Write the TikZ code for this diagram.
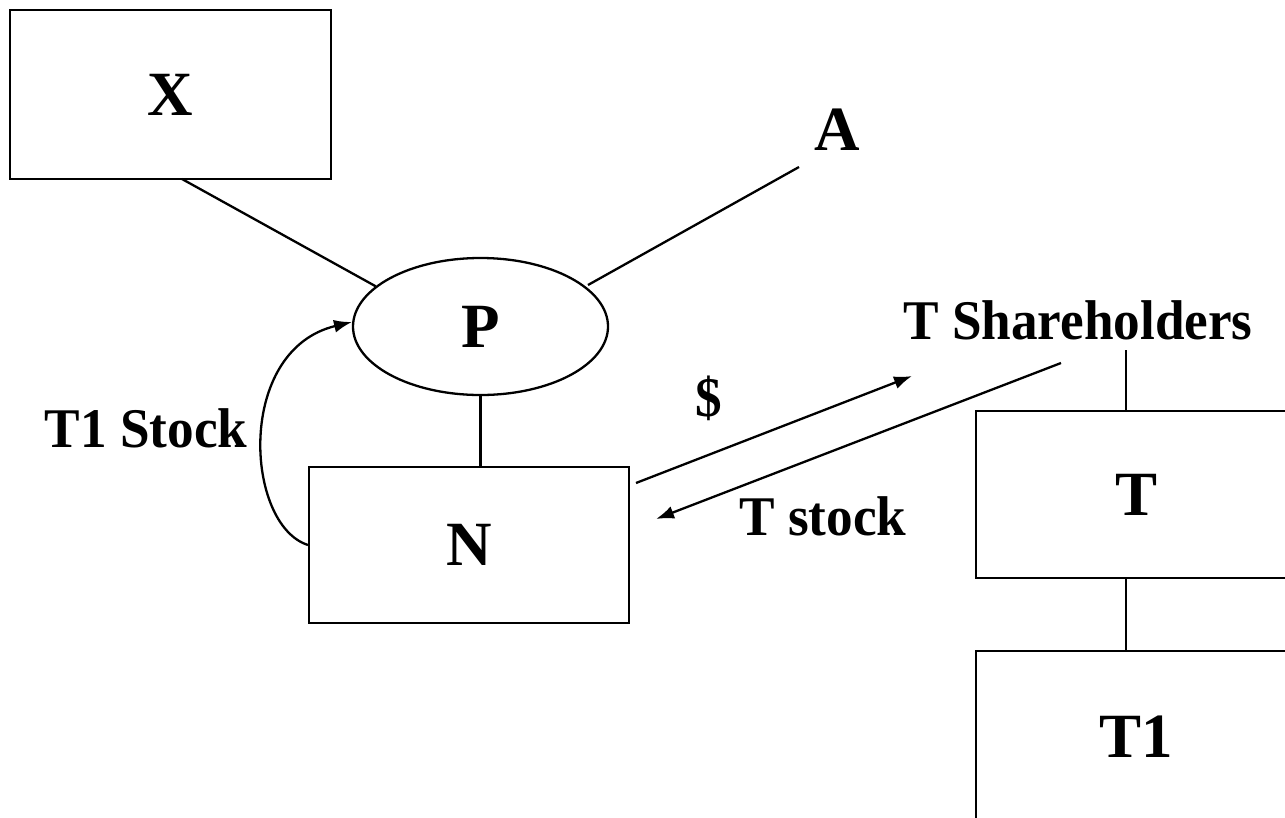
\documentclass[tikz,border=0pt]{standalone}
\usepackage{fontspec}
\usepackage{graphicx}
\setmainfont{Liberation Serif}
\usetikzlibrary{shapes.geometric,arrows.meta,calc}
\begin{document}
\begin{tikzpicture}[x=1pt,y=-1pt,line width=2.3pt,
  box/.style={draw,rectangle,inner sep=0pt,font=\fontsize{63}{70}\selectfont\bfseries},
  ell/.style={draw,ellipse,inner sep=0pt,font=\fontsize{63}{70}\selectfont\bfseries},
  big/.style={inner sep=0pt,font=\fontsize{63}{70}\selectfont\bfseries},
  lab/.style={inner sep=0pt,font=\fontsize{56}{60}\selectfont\bfseries},
  tip/.style={-{Latex[length=18pt,width=13pt]}}]
\useasboundingbox (0,0) rectangle (1285,817);
\clip (0,0) rectangle (1285,817);
% nodes
\node[box,minimum width=321pt,minimum height=169pt] (X) at (170.5,94.5) {X};
\node[ell,minimum width=255pt,minimum height=137pt] (P) at (480.5,326.5) {P};
\node[box,minimum width=320pt,minimum height=156pt] (N) at (469,545) {N};
\node[box,minimum width=320pt,minimum height=167pt] (T) at (1136,494.5) {T};
\node[box,minimum width=320pt,minimum height=172pt] (T1) at (1136,737) {T1};
\node[big] (A) at (837,130) {A};
\node[lab] (TS) at (1078,320) {\scalebox{0.95}[1]{T Shareholders}};
\node[lab] (L1) at (146,428) {\scalebox{0.95}[1]{T1 Stock}};
\node[lab] (Ld) at (709,398) {\scalebox{0.95}[1]{\$}};
\node[lab] (Lt) at (823,516) {\scalebox{0.95}[1]{T stock}};
% coordinates
\coordinate (xs) at (182,179);
\coordinate (as) at (799,167);
\coordinate (ae) at (588,285);
\coordinate (d1) at (636,483);
\coordinate (d2) at (912,376);
\coordinate (s1) at (1061,363);
\coordinate (s2) at (656,519);
\coordinate (ts) at (1126,350);
\coordinate (nl) at (308,545);
\coordinate (pl) at (352,322);
% connectors
\draw (xs) -- (P.159);
\draw (as) -- (ae);
\draw (P.south) -- (P.south |- N.north);
\draw[tip] (nl) .. controls (245,525) and (235,350) .. (pl);
\draw[tip] (d1) -- (d2);
\draw[tip] (s1) -- (s2);
\draw (ts) -- (ts |- T.north);
\draw (ts |- T.south) -- (ts |- T1.north);
\end{tikzpicture}
\end{document}
